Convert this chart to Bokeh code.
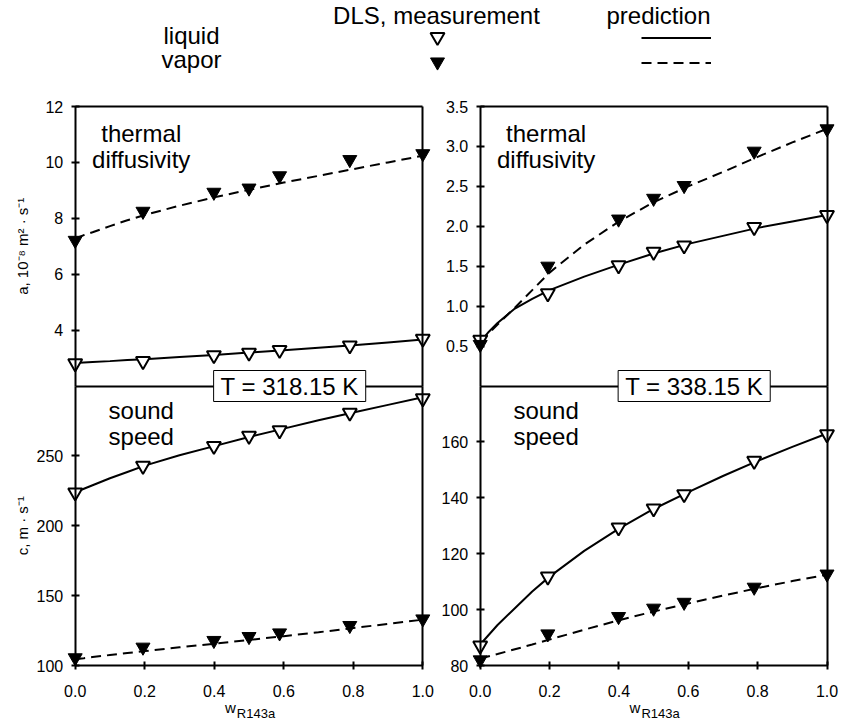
import math
from bokeh.plotting import figure
from bokeh.models import (Range1d, LinearAxis, FixedTicker, PrintfTickFormatter,
                          Label, Legend, LegendItem)
from bokeh.layouts import row, column
from bokeh.embed import file_html
from bokeh.resources import INLINE

# ---------------- data ----------------
w_meas = [0.0, 0.195, 0.399, 0.5, 0.588, 0.79, 1.0]
w_pred = [0.0, 0.025, 0.05, 0.1, 0.15, 0.2, 0.3, 0.4, 0.5, 0.6, 0.7, 0.8, 0.9, 1.0]
x_ticks = [0.0, 0.2, 0.4, 0.6, 0.8, 1.0]

# T = 318.15 K
a318_liq_meas = [2.81, 2.89, 3.10, 3.19, 3.29, 3.45, 3.69]
a318_vap_meas = [7.21, 8.25, 8.93, 9.08, 9.52, 10.10, 10.31]
a318_liq_pred = [2.82, 2.84, 2.86, 2.89, 2.93, 2.96, 3.04, 3.11, 3.20, 3.28, 3.37, 3.46, 3.56, 3.66]
a318_vap_pred = [7.28, 7.40, 7.50, 7.72, 7.93, 8.12, 8.45, 8.75, 9.02, 9.28, 9.52, 9.76, 10.00, 10.24]
c318_liq_meas = [223.8, 242.9, 257.1, 264.3, 268.3, 280.9, 291.2]
c318_vap_meas = [105.5, 113.1, 117.9, 120.7, 123.3, 128.6, 133.3]
c318_liq_pred = [224.0, 226.5, 229.0, 234.0, 238.5, 243.0, 250.5, 257.0, 263.5, 269.5, 275.5, 281.0, 286.5, 292.0]
c318_vap_pred = [104.5, 105.2, 106.0, 107.5, 108.9, 110.3, 113.0, 115.6, 118.3, 121.0, 123.8, 126.8, 129.8, 132.8]

# T = 338.15 K
a338_liq_meas = [0.58, 1.16, 1.51, 1.68, 1.76, 1.99, 2.14]
a338_vap_meas = [0.52, 1.50, 2.09, 2.35, 2.51, 2.94, 3.22]
a338_liq_pred = [0.55, 0.68, 0.79, 0.97, 1.09, 1.20, 1.37, 1.52, 1.66, 1.78, 1.88, 1.98, 2.06, 2.14]
a338_vap_pred = [0.56, 0.66, 0.77, 0.98, 1.20, 1.42, 1.77, 2.06, 2.30, 2.50, 2.68, 2.87, 3.05, 3.22]
c338_liq_meas = [87.1, 111.8, 129.4, 136.2, 141.3, 153.2, 162.7]
c338_vap_meas = [82.0, 91.3, 97.5, 100.5, 102.6, 108.0, 112.7]
c338_liq_pred = [87.5, 91.0, 94.5, 100.5, 106.5, 111.8, 121.0, 129.0, 136.0, 142.0, 147.8, 153.2, 158.2, 163.0]
c338_vap_pred = [82.5, 83.3, 84.1, 85.8, 87.5, 89.3, 92.8, 96.2, 99.3, 102.2, 105.0, 107.7, 110.2, 112.5]

a318_lim = (2, 12)
a318_ticks = [4, 6, 8, 10, 12]
c318_lim = (100, 300)
c318_ticks = [100, 150, 200, 250]
a338_lim = (0, 3.5)
a338_ticks = [0.5, 1.0, 1.5, 2.0, 2.5, 3.0, 3.5]
c338_lim = (80, 180)
c338_ticks = [80, 100, 120, 140, 160]

temp_318 = "T = 318.15 K"
temp_338 = "T = 338.15 K"
ylabel_a = "a, 10\u207b\u2078 m\u00b2 \u00b7 s\u207b\u00b9"
ylabel_c = "c, m \u00b7 s\u207b\u00b9"

# ---------------- layout constants (pixels) ----------------
FONT = "Liberation Sans"
LEG_H = 92                  # legend strip height
COL_H = 725 - LEG_H         # panel column height
Y_TOP = 106 - LEG_H         # canvas y of the panel top
Y_SEP = 385.5 - LEG_H       # canvas y of the separator
Y_BOT = 665 - LEG_H         # canvas y of the x axis
LEFT_W, RIGHT_W = 441, 402
TOTAL_W = LEFT_W + RIGHT_W
MSIZE = 14


def style_axis(ax, ticks, fmt, standoff, labels=True):
    ax.ticker = FixedTicker(ticks=ticks)
    if fmt:
        ax.formatter = PrintfTickFormatter(format=fmt)
    ax.axis_line_color = "black"
    ax.axis_line_width = 2
    ax.major_tick_line_color = "black" if ticks else None
    ax.major_tick_line_width = 2
    ax.major_tick_in = 4
    ax.major_tick_out = 4
    ax.minor_tick_line_color = None
    ax.major_label_text_font = FONT
    ax.major_label_text_font_size = "16px" if labels else "0px"
    ax.major_label_text_color = "black"
    ax.major_label_standoff = standoff
    return ax


def make_column(a_lim, a_ticks, a_fmt, c_lim, c_ticks, c_fmt,
                a_liq_m, a_vap_m, a_liq_p, a_vap_p,
                c_liq_m, c_vap_m, c_liq_p, c_vap_p,
                width, x0_px, x1_px, temp_text, ylabels):
    # frame == whole canvas; ranges chosen so that the panels sit where they should
    xper = 1.0 / (x1_px - x0_px)
    a_per = (a_lim[1] - a_lim[0]) / (Y_SEP - Y_TOP)
    c_per = (c_lim[1] - c_lim[0]) / (Y_BOT - Y_SEP)
    p = figure(width=width, height=COL_H, output_backend="svg", toolbar_location=None,
               title=None, x_axis_location=None, y_axis_location=None, min_border=0,
               x_range=Range1d(-x0_px * xper, (width - x0_px) * xper),
               y_range=Range1d(c_lim[0] - (COL_H - Y_BOT) * c_per, c_lim[1] + Y_SEP * c_per))
    p.extra_y_ranges = {"top": Range1d(a_lim[0] - (COL_H - Y_SEP) * a_per, a_lim[1] + Y_TOP * a_per)}
    p.outline_line_color = None
    p.grid.visible = False
    p.background_fill_color = "white"
    p.border_fill_color = "white"

    # prediction curves
    p.line(w_pred, a_liq_p, y_range_name="top", line_color="black", line_width=2)
    p.line(w_pred, a_vap_p, y_range_name="top", line_color="black", line_width=2, line_dash="10 6")
    p.line(w_pred, c_liq_p, line_color="black", line_width=2)
    p.line(w_pred, c_vap_p, line_color="black", line_width=2, line_dash="10 6")
    # measurements
    p.scatter(w_meas, a_liq_m, y_range_name="top", marker="inverted_triangle", size=MSIZE,
              fill_color="white", line_color="black", line_width=2)
    p.scatter(w_meas, a_vap_m, y_range_name="top", marker="inverted_triangle", size=MSIZE,
              fill_color="black", line_color="black", line_width=1)
    p.scatter(w_meas, c_liq_m, marker="inverted_triangle", size=MSIZE,
              fill_color="white", line_color="black", line_width=2)
    p.scatter(w_meas, c_vap_m, marker="inverted_triangle", size=MSIZE,
              fill_color="black", line_color="black", line_width=1)

    # axes (all at fixed locations)
    p.add_layout(style_axis(LinearAxis(y_range_name="top", fixed_location=0, bounds=a_lim),
                            a_ticks, a_fmt, 8), "left")
    p.add_layout(style_axis(LinearAxis(fixed_location=0, bounds=c_lim),
                            c_ticks, c_fmt, 8), "left")
    p.add_layout(style_axis(LinearAxis(fixed_location=c_lim[0], bounds=(0, 1)),
                            x_ticks, "%.1f", 15), "below")
    p.add_layout(style_axis(LinearAxis(y_range_name="top", fixed_location=a_lim[0], bounds=(0, 1)),
                            [], None, 0, False), "below")
    p.add_layout(style_axis(LinearAxis(y_range_name="top", fixed_location=a_lim[1], bounds=(0, 1)),
                            [], None, 0, False), "above")
    p.add_layout(style_axis(LinearAxis(y_range_name="top", fixed_location=1, bounds=a_lim),
                            [], None, 0, False), "right")
    p.add_layout(style_axis(LinearAxis(fixed_location=1, bounds=c_lim),
                            [], None, 0, False), "right")

    def ya(f):
        return a_lim[0] + (a_lim[1] - a_lim[0]) * f

    def yc(f):
        return c_lim[0] + (c_lim[1] - c_lim[0]) * f

    big = dict(text_font=FONT, text_font_size="24px", text_color="black",
               text_align="center", text_baseline="alphabetic")
    p.add_layout(Label(x=0.19, y=ya(0.905), y_range_name="top", text="thermal", **big))
    p.add_layout(Label(x=0.19, y=ya(0.812), y_range_name="top", text="diffusivity", **big))
    p.add_layout(Label(x=0.19, y=yc(0.912), text="sound", **big))
    p.add_layout(Label(x=0.19, y=yc(0.821), text="speed", **big))

    p.add_layout(Label(x=0.617, y=a_lim[0], y_range_name="top", text=temp_text,
                       text_font=FONT, text_font_size="24px", text_color="black",
                       text_align="center", text_baseline="middle",
                       background_fill_color="white", border_line_color="black",
                       border_line_width=1, padding=(7, 2)))

    # x axis title  w_R143a
    p.add_layout(Label(x=0.462, y=c_lim[0] - 42 * c_per, text="w",
                       text_font=FONT, text_font_size="15px", text_color="black",
                       text_align="right", text_baseline="alphabetic"))
    p.add_layout(Label(x=0.465, y=c_lim[0] - 48 * c_per, text="R143a",
                       text_font=FONT, text_font_size="13px", text_color="black",
                       text_align="left", text_baseline="alphabetic"))

    if ylabels:
        xl = (22 - x0_px) * xper
        p.add_layout(Label(x=xl, y=ya(0.5), y_range_name="top", text=ylabels[0], angle=math.pi / 2,
                           text_font=FONT, text_font_size="15px", text_color="black",
                           text_align="center", text_baseline="middle"))
        p.add_layout(Label(x=xl, y=yc(0.5), text=ylabels[1], angle=math.pi / 2,
                           text_font=FONT, text_font_size="15px", text_color="black",
                           text_align="center", text_baseline="middle"))
    return p


left = make_column(a318_lim, a318_ticks, "%d", c318_lim, c318_ticks, "%d",
                   a318_liq_meas, a318_vap_meas, a318_liq_pred, a318_vap_pred,
                   c318_liq_meas, c318_vap_meas, c318_liq_pred, c318_vap_pred,
                   LEFT_W, 74.7, 422.3, temp_318, (ylabel_a, ylabel_c))
right = make_column(a338_lim, a338_ticks, "%.1f", c338_lim, c338_ticks, "%d",
                    a338_liq_meas, a338_vap_meas, a338_liq_pred, a338_vap_pred,
                    c338_liq_meas, c338_vap_meas, c338_liq_pred, c338_vap_pred,
                    RIGHT_W, 479.7 - LEFT_W, 826.5 - LEFT_W, temp_338, None)

# ---------------- legend strip ----------------
lg = figure(width=TOTAL_W, height=LEG_H, output_backend="svg", toolbar_location=None,
            title=None, x_axis_location=None, y_axis_location=None, min_border=0,
            x_range=Range1d(0, TOTAL_W), y_range=Range1d(LEG_H, 0))
lg.outline_line_color = None
lg.grid.visible = False
lg.background_fill_color = "white"
lg.border_fill_color = "white"

nan = float("nan")
r_liq_m = lg.scatter([nan], [nan], marker="inverted_triangle", size=MSIZE,
                     fill_color="white", line_color="black", line_width=2)
r_vap_m = lg.scatter([nan], [nan], marker="inverted_triangle", size=MSIZE,
                     fill_color="black", line_color="black", line_width=1)
r_liq_p = lg.line([nan], [nan], line_color="black", line_width=2)
r_vap_p = lg.line([nan], [nan], line_color="black", line_width=2, line_dash="10 6")

GW, GH = 70, 35


def add_key(r, cx, cy):
    leg = Legend(items=[LegendItem(label=" ", renderers=[r])],
                 location=(cx - GW / 2, LEG_H - (cy + GH / 2)),
                 glyph_width=GW, glyph_height=GH, padding=0, margin=0, spacing=0,
                 label_standoff=0, label_width=0, label_height=0,
                 label_text_font_size="1px", border_line_color=None,
                 background_fill_alpha=0)
    lg.add_layout(leg)


add_key(r_liq_m, 437, 36)
add_key(r_vap_m, 437, 61)
add_key(r_liq_p, 676, 37)
add_key(r_vap_p, 676, 62)

hdr = dict(text_font=FONT, text_font_size="24px", text_color="black",
           text_align="center", text_baseline="alphabetic")
lg.add_layout(Label(x=436, y=15, text="DLS, measurement", **hdr))
lg.add_layout(Label(x=658, y=15, text="prediction", **hdr))
lg.add_layout(Label(x=191, y=35, text="liquid", **hdr))
lg.add_layout(Label(x=191, y=59, text="vapor", **hdr))

layout = column(lg, row(left, right))
open("out.html", "w").write(file_html(layout, INLINE))
